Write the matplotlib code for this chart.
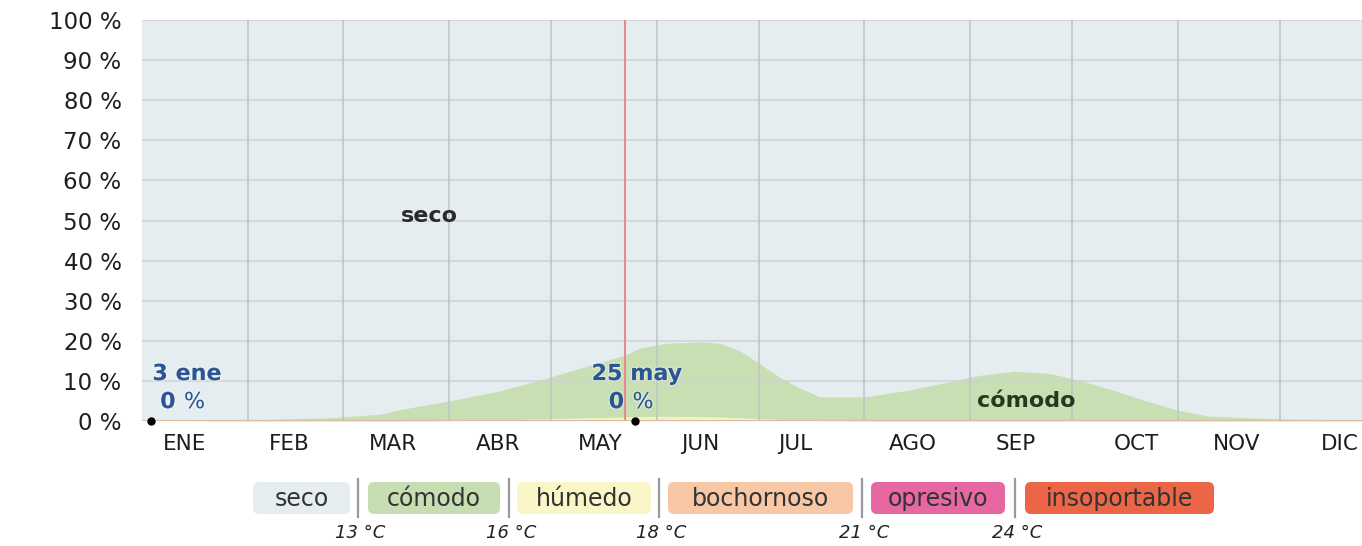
import matplotlib
matplotlib.use("Agg")
import matplotlib.pyplot as plt
import numpy as np
from matplotlib.patches import FancyBboxPatch
import matplotlib.patheffects as pe

plt.rcParams['font.family'] = ['DejaVu Sans']

# ---------------- data ----------------
month_days = [31, 28, 31, 30, 31, 30, 31, 31, 30, 31, 30, 31]
month_labels = ["ENE", "FEB", "MAR", "ABR", "MAY", "JUN", "JUL", "AGO", "SEP", "OCT", "NOV", "DIC"]
month_label_days = [12.4, 43.2, 73.5, 104.4, 134.4, 163.8, 191.8, 226.2, 256.5, 291.8, 321.2, 351.5]

days = [0, 15, 31, 45, 55, 70, 76, 90, 105, 120, 129, 142, 146, 154, 164, 170, 176, 181,
        187, 193, 199, 212, 225, 237, 246, 256, 266, 275, 285, 294, 304, 313, 335, 358, 365]
humedo = [0, 0, 0, 0, 0, 0, 0, 0.05, 0.3, 0.6, 0.8, 1.0, 1.1, 1.2, 1.1, 1.0, 0.8, 0.6,
          0.4, 0.2, 0.1, 0, 0, 0, 0, 0, 0, 0, 0, 0, 0, 0, 0, 0, 0]
comodo = [0, 0.05, 0.25, 0.6, 0.8, 1.7, 2.9, 4.95, 7.2, 10.4, 12.5, 15.5, 17.1, 18.2, 18.6, 18.3, 16.4, 13.8,
          10.6, 8.0, 5.9, 6.0, 7.7, 9.8, 11.4, 12.4, 11.9, 10.2, 7.7, 5.2, 2.7, 1.2, 0.5, 0.3, 0.2]

y_ticks = [0, 10, 20, 30, 40, 50, 60, 70, 80, 90, 100]
y_tick_labels = [f"{v} %" for v in y_ticks]

today_day = 141.7
markers = [("3 ene", 2.5, 0), ("25 may", 144.5, 0)]

legend_names = ["seco", "cómodo", "húmedo", "bochornoso", "opresivo", "insoportable"]
legend_colors = ["#e5edf1", "#c6deb1", "#fbf6c8", "#f7c7a6", "#e767a2", "#ec6547"]
legend_thresholds = ["13 °C", "16 °C", "18 °C", "21 °C", "24 °C"]

# ---------------- figure ----------------
W, H = 1362, 546
fig = plt.figure(figsize=(W / 100, H / 100), dpi=100)
ax_left_px, ax_right_px, ax_top_px, ax_bot_px = 142.4, 1362, 20, 421
ax = fig.add_axes([ax_left_px / W, 1 - ax_bot_px / H,
                   (ax_right_px - ax_left_px) / W, (ax_bot_px - ax_top_px) / H])

seco_color = "#e5edf1"
ax.set_facecolor(seco_color)
d = np.array(days, dtype=float)
h = np.array(humedo)
c = np.array(comodo)
ax.fill_between(d, 0, h, color="#f8f1c0", lw=0, zorder=2)
ax.fill_between(d, h, h + c, color="#c7dfb2", lw=0, zorder=2)

# grid
for v in y_ticks[1:]:
    ax.axhline(v, color="#cbd3d7", lw=1.2, zorder=3, alpha=0.9)
bounds = np.cumsum(month_days)[:-1]
for b in bounds:
    ax.axvline(b, color="#bcc4c8", lw=1.3, zorder=3, alpha=0.85)

ax.axvline(today_day, color="#e88a8a", lw=1.5, zorder=4)
ax.axhline(0.1, color="#d8bfa0", lw=1.5, zorder=4)

ax.set_xlim(0, 358.1)
ax.set_ylim(0, 100)

for s in ax.spines.values():
    s.set_visible(False)

ax.set_yticks(y_ticks)
ax.set_yticklabels(y_tick_labels, fontsize=16.5, color="#1e1e1e")
ax.tick_params(axis="y", length=0, pad=15)
ax.set_xticks(month_label_days)
ax.set_xticklabels(month_labels, fontsize=15.5, color="#1e1e1e")
ax.tick_params(axis="x", length=0, pad=9)

halo = [pe.withStroke(linewidth=2, foreground="white", alpha=0.35)]

# area labels
ax.text(84.4, 51, "seco", fontsize=16, fontweight="bold", color="#2a2a2a",
        ha="center", va="center", zorder=6)
ax.text(259.4, 5, "cómodo", fontsize=16, fontweight="bold", color="#1f3a1c",
        ha="center", va="center", zorder=6)

# markers
label_offsets = [(13.1, 9.8, 12.2), (145.2, 141.5, 143.9)]
for (lab, xd, val), (cx, zx, px) in zip(markers, label_offsets):
    ax.plot([xd], [val], "o", color="black", ms=5, zorder=7, clip_on=False)
    ax.text(cx, 11.7, lab, fontsize=16, fontweight="bold", color="#2b5593",
            ha="center", va="center", zorder=6, path_effects=halo)
    ax.text(zx, 4.7, f"{val}", fontsize=16, fontweight="bold", color="#2b5593",
            ha="right", va="center", zorder=6, path_effects=halo)
    ax.text(px, 4.7, "%", fontsize=16, color="#2b5593",
            ha="left", va="center", zorder=6, path_effects=halo)

# ---------------- legend (pixel coords overlay) ----------------
lax = fig.add_axes([0, 0, 1, 1], facecolor="none")
lax.set_xlim(0, W)
lax.set_ylim(H, 0)
lax.axis("off")

box_x = [(253, 350), (368, 500), (517, 651), (668, 853), (871, 1005), (1025, 1214)]
sep_x = [358, 509, 659, 862, 1015]
box_top, box_bot = 482, 514
for (x0, x1), name, col in zip(box_x, legend_names, legend_colors):
    p = FancyBboxPatch((x0, box_top), x1 - x0, box_bot - box_top,
                       boxstyle="round,pad=0,rounding_size=6", fc=col, ec="none")
    lax.add_patch(p)
    lax.text((x0 + x1) / 2, (box_top + box_bot) / 2 + 1, name, fontsize=17,
             color="#333333", ha="center", va="center")
for sx, t in zip(sep_x, legend_thresholds):
    lax.plot([sx, sx], [479, 517], color="#9a9a9a", lw=1.6)
    lax.text(sx + 2, 533, t, fontsize=13, style="italic", color="#222222",
             ha="center", va="center")

fig.savefig("out.png", dpi=100)
